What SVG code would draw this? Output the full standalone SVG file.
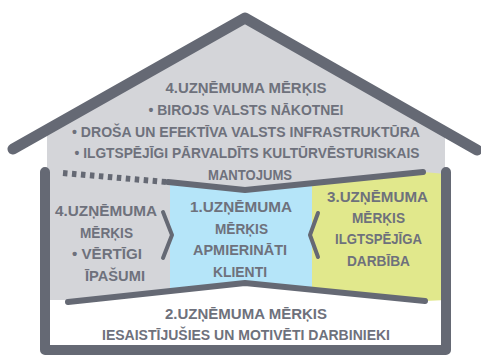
<svg xmlns="http://www.w3.org/2000/svg" width="481" height="355" viewBox="0 0 481 355">
<style>
.t{font-family:"Liberation Sans",Arial,sans-serif;font-weight:bold;font-size:14px;fill:#6e717c;text-anchor:middle}
.ln{fill:none;stroke:#656974;stroke-linecap:round;stroke-linejoin:round}
</style>
<rect width="481" height="355" fill="#ffffff"/>
<g id="house-body">
<polygon points="47,130 245,18 445,132 445,300 47,300" fill="#d4d5d9"/>
<polygon points="47,302 68,302 245,283 425,301 446,300 446,347 47,347" fill="#ffffff"/>
</g>
<g id="goal1-area">
<polygon points="170,182 245,190 312,183 312,288 245,283 170,291" fill="#b5e5f9"/>
</g>
<g id="goal3-area">
<polygon points="312,183 423,172 446,174 446,300 425,301 312,288" fill="#e1e88c"/>
</g>
<g id="connectors">
<path class="ln" d="M13,149 L245,18 L477,150" stroke-width="11"/>
<path class="ln" d="M45,172 L45,350 L446,350 L446,172" stroke-width="10"/>
<path d="M63,173 L166,182" fill="none" stroke="#656974" stroke-width="6" stroke-dasharray="4.5 4.5"/>
<path class="ln" d="M168,182 L245,190 L423,172" stroke-width="6"/>
<path class="ln" d="M68,302 L245,283 L425,301" stroke-width="6"/>
<path class="ln" d="M163,212 L172,235 L163,258" stroke-width="4"/>
<path class="ln" d="M318,213 L310,235 L318,257" stroke-width="4"/>
</g>
<g id="goal4-roof">
<text class="t" x="246" y="93" textLength="161" lengthAdjust="spacingAndGlyphs">4.UZŅĒMUMA MĒRĶIS</text>
<text class="t" x="246" y="115" textLength="195" lengthAdjust="spacingAndGlyphs">• BIROJS VALSTS NĀKOTNEI</text>
<text class="t" x="246" y="136.5" textLength="348" lengthAdjust="spacingAndGlyphs">• DROŠA UN EFEKTĪVA VALSTS INFRASTRUKTŪRA</text>
<text class="t" x="247" y="158" textLength="345" lengthAdjust="spacingAndGlyphs">• ILGTSPĒJĪGI PĀRVALDĪTS KULTŪRVĒSTURISKAIS</text>
<text class="t" x="250" y="180" textLength="84" lengthAdjust="spacingAndGlyphs">MANTOJUMS</text>
</g>
<g id="goal4-left">
<text class="t" x="106" y="216" textLength="102" lengthAdjust="spacingAndGlyphs">4.UZŅĒMUMA</text>
<text class="t" x="106.5" y="237.5" textLength="53" lengthAdjust="spacingAndGlyphs">MĒRĶIS</text>
<text class="t" x="107" y="259" textLength="70" lengthAdjust="spacingAndGlyphs">• VĒRTĪGI</text>
<text class="t" x="115" y="280.5" textLength="60" lengthAdjust="spacingAndGlyphs">ĪPAŠUMI</text>
</g>
<g id="goal1">
<text class="t" x="241" y="212" textLength="102" lengthAdjust="spacingAndGlyphs">1.UZŅĒMUMA</text>
<text class="t" x="241.5" y="233.5" textLength="53" lengthAdjust="spacingAndGlyphs">MĒRĶIS</text>
<text class="t" x="240" y="255" textLength="94" lengthAdjust="spacingAndGlyphs">APMIERINĀTI</text>
<text class="t" x="240" y="276.5" textLength="54" lengthAdjust="spacingAndGlyphs">KLIENTI</text>
</g>
<g id="goal3">
<text class="t" x="377.5" y="201.5" textLength="101" lengthAdjust="spacingAndGlyphs">3.UZŅĒMUMA</text>
<text class="t" x="378.5" y="223" textLength="53" lengthAdjust="spacingAndGlyphs">MĒRĶIS</text>
<text class="t" x="378.5" y="244" textLength="87" lengthAdjust="spacingAndGlyphs">ILGTSPĒJĪGA</text>
<text class="t" x="378.5" y="265.5" textLength="63" lengthAdjust="spacingAndGlyphs">DARBĪBA</text>
</g>
<g id="goal2">
<text class="t" x="246" y="319" textLength="162" lengthAdjust="spacingAndGlyphs">2.UZŅĒMUMA MĒRĶIS</text>
<text class="t" x="246" y="340" textLength="288" lengthAdjust="spacingAndGlyphs">IESAISTĪJUŠIES UN MOTIVĒTI DARBINIEKI</text>
</g>
</svg>
